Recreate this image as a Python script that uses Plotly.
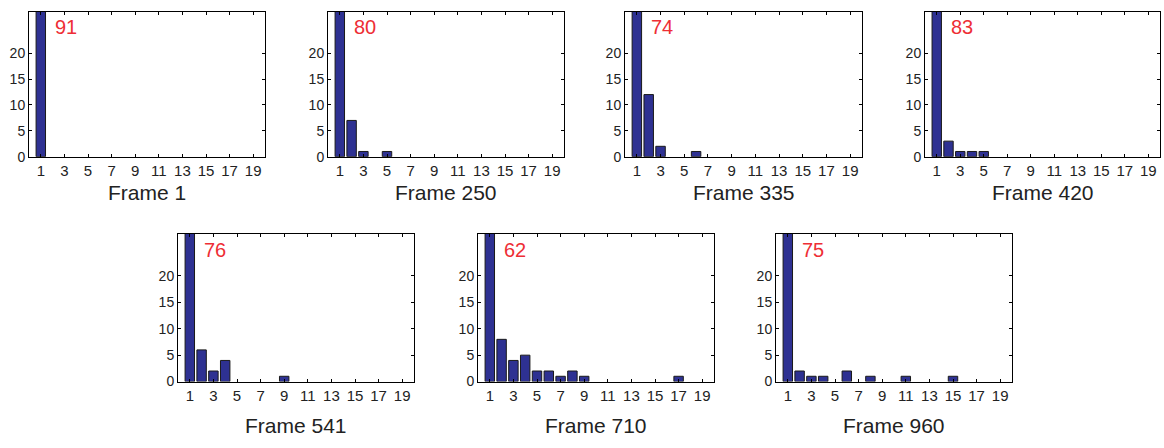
import plotly.graph_objects as go

bins = list(range(1, 21))
frame_titles = ["Frame 1", "Frame 250", "Frame 335", "Frame 420", "Frame 541", "Frame 710", "Frame 960"]
labels = ["91", "80", "74", "83", "76", "62", "75"]

f1 = [91] + [0] * 19
f250 = [80, 7, 1, 0, 1] + [0] * 15
f335 = [74, 12, 2, 0, 0, 1] + [0] * 14
f420 = [83, 3, 1, 1, 1] + [0] * 15
f541 = [76, 6, 2, 4, 0, 0, 0, 0, 1] + [0] * 11
f710 = [62, 8, 4, 5, 2, 2, 1, 2, 1, 0, 0, 0, 0, 0, 0, 0, 1, 0, 0, 0]
f960 = [75, 2, 1, 1, 0, 2, 0, 1, 0, 0, 1, 0, 0, 0, 1, 0, 0, 0, 0, 0]
series = [f1, f250, f335, f420, f541, f710, f960]

xticks = list(range(1, 20, 2))
yticks = [0, 5, 10, 15, 20]

W, H = 1164, 448
# panel boxes in pixels: (left, right, top, bottom)
boxes = [
    (29, 265, 12, 159.5),
    (328, 564, 12, 159.5),
    (625, 862, 12, 159.5),
    (925, 1160, 12, 159.5),
    (178, 414, 238, 388.5),
    (478, 714, 238, 388.5),
    (776, 1012, 238, 388.5),
]
title_y = [195.5] * 4 + [433] * 3

FONT = "Liberation Sans, Arial, sans-serif"
BAR_COLOR = "rgb(46,49,146)"
TXT = "#222222"

fig = go.Figure()
annotations = []
for i, (vals, box) in enumerate(zip(series, boxes)):
    n = i + 1
    xa = "x" if n == 1 else f"x{n}"
    ya = "y" if n == 1 else f"y{n}"
    fig.add_trace(go.Bar(
        x=bins, y=vals, width=0.8,
        marker=dict(color=BAR_COLOR,
                    line=dict(color="#1a1a1a", width=[1 if v > 0 else 0 for v in vals])),
        xaxis=xa, yaxis=ya, showlegend=False,
    ))
    l, r, t, b = box
    axcommon = dict(showline=True, linecolor="black", linewidth=1, mirror="ticks",
                    ticks="inside", ticklen=3, tickwidth=1, tickcolor="black",
                    showgrid=False, zeroline=False)
    fig.layout[f"xaxis{n}" if n > 1 else "xaxis"] = dict(
        domain=[l / W, r / W], anchor=ya, range=[0, 20],
        tickvals=xticks, ticktext=[str(v) for v in xticks],
        tickfont=dict(family=FONT, size=15, color=TXT), **axcommon)
    fig.layout[f"yaxis{n}" if n > 1 else "yaxis"] = dict(
        domain=[1 - b / H, 1 - t / H], anchor=xa, range=[0, 28],
        tickvals=yticks, ticktext=[str(v) for v in yticks],
        tickfont=dict(family=FONT, size=14, color=TXT), **axcommon)
    annotations.append(dict(
        x=2, y=25, xref=xa, yref=ya, text=labels[i], showarrow=False,
        xanchor="left", yanchor="middle",
        font=dict(family=FONT, size=20, color="#EE2E35")))
    annotations.append(dict(
        x=(l + r) / 2 / W, y=1 - title_y[i] / H, xref="paper", yref="paper",
        text=frame_titles[i], showarrow=False, xanchor="center", yanchor="middle",
        font=dict(family=FONT, size=21, color=TXT)))

fig.update_layout(
    width=W, height=H, margin=dict(l=0, r=0, t=0, b=0),
    paper_bgcolor="white", plot_bgcolor="white",
    annotations=annotations, bargap=0.2,
)
fig.write_html("out.html")
